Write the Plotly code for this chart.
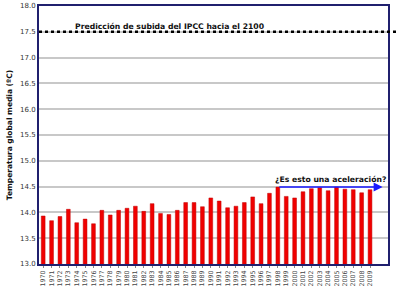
import plotly.graph_objects as go

years = [str(y) for y in range(1970, 2010)]
temps = [13.93, 13.84, 13.92, 14.06, 13.80, 13.87, 13.78, 14.04, 13.95, 14.04,
         14.08, 14.12, 14.02, 14.17, 13.98, 13.96, 14.04, 14.19, 14.19, 14.11,
         14.28, 14.22, 14.09, 14.12, 14.19, 14.30, 14.17, 14.37, 14.49, 14.31,
         14.28, 14.40, 14.46, 14.48, 14.42, 14.49, 14.45, 14.44, 14.38, 14.44]
ipcc_level = 17.5
ipcc_text = "Predicción de subida del IPCC hacia el 2100"
accel_text = "¿Es esto una aceleración?"
y_ticks = [13.0, 13.5, 14.0, 14.5, 15.0, 15.5, 16.0, 16.5, 17.0, 17.5, 18.0]

navy = "#20206e"
fig = go.Figure()
fig.add_trace(go.Bar(x=years, y=temps, marker=dict(color="#f00000", line=dict(color="#c00000", width=0.5)),
                     width=0.45))

peak_idx = temps.index(max(temps))
peak = temps[peak_idx]

fig.add_shape(type="line", xref="paper", yref="y", x0=0, x1=1.025, y0=ipcc_level, y1=ipcc_level,
              line=dict(color="black", width=2.5, dash="dot"), layer="above")
fig.add_annotation(xref="paper", yref="y", x=0.375, y=ipcc_level, text="<b>" + ipcc_text + "</b>",
                   showarrow=False, yanchor="bottom", xanchor="center",
                   font=dict(family="DejaVu Sans", size=7.7, color="#111111"), yshift=-1)
fig.add_annotation(x=len(years) - 0.5 + 1.0, y=peak, ax=peak_idx, ay=peak, axref="x", ayref="y",
                   xref="x", yref="y", text="", showarrow=True, arrowhead=2, arrowsize=1.2,
                   arrowwidth=1.5, arrowcolor="#1a1aff")
fig.add_annotation(xref="paper", yref="y", x=1.0, y=peak, text="<b>" + accel_text + "</b>",
                   showarrow=False, yanchor="bottom", xanchor="right",
                   font=dict(family="DejaVu Sans", size=7.7, color="#111111"), yshift=1)

fig.update_layout(
    width=400, height=289,
    margin=dict(l=39, r=12, t=6, b=25),
    plot_bgcolor="white", paper_bgcolor="white",
    showlegend=False, bargap=0.55,
    font=dict(family="DejaVu Sans", color="#333333"),
)
fig.update_xaxes(type="category", tickangle=-90, tickfont=dict(size=6.3, color="#444444"),
                 showline=True, linecolor=navy, linewidth=2, mirror=True, ticks="outside",
                 ticklen=2, tickcolor="#888888", showgrid=False, automargin=False)
fig.update_yaxes(range=[13, 18], tickvals=y_ticks, tickformat=".1f",
                 tickfont=dict(size=7, color="#333333", family="DejaVu Sans"),
                 showline=True, linecolor=navy, linewidth=2, mirror=True,
                 gridcolor="#c8c8c8", gridwidth=1.5, ticks="", automargin=False,
                 title=dict(text="<b>Temperatura global media (ºC)</b>", font=dict(size=7.5, color="#111111"),
                            standoff=6))
fig.write_html("out.html")
